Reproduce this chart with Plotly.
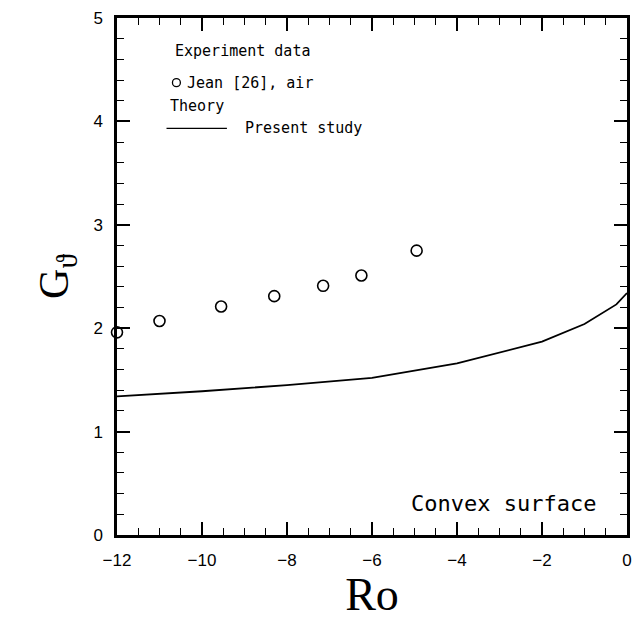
import plotly.graph_objects as go

# Experiment data: Jean [26], air
exp_ro = [-12.0, -11.0, -9.55, -8.3, -7.15, -6.25, -4.95]
exp_g = [1.96, 2.07, 2.21, 2.31, 2.41, 2.51, 2.75]

# Theory: present study
th_ro = [-12, -10, -8, -6, -4, -2, -1, -0.25, 0]
th_g = [1.34, 1.39, 1.45, 1.52, 1.66, 1.87, 2.04, 2.23, 2.34]

x_range = [-12, 0]
y_range = [0, 5]

fig = go.Figure()
fig.add_trace(go.Scatter(
    x=th_ro, y=th_g, mode="lines", xaxis="x2", yaxis="y2",
    line=dict(color="black", width=1.8),
    showlegend=False, cliponaxis=True,
))
fig.add_trace(go.Scatter(
    x=exp_ro, y=exp_g, mode="markers",
    marker=dict(symbol="circle-open", size=11, color="black", line=dict(width=1.6)),
    showlegend=False, cliponaxis=False,
))

tickfont = dict(family="Liberation Sans, Arial, sans-serif", size=17, color="black")
base = dict(showgrid=False, zeroline=False, showline=True, linecolor="black", linewidth=2.5,
            mirror="allticks", ticks="inside", tickcolor="black", tickmode="linear")

fig.update_layout(
    xaxis=dict(range=x_range, tick0=-12, dtick=2, ticklen=13, tickwidth=1.8,
               tickfont=tickfont, ticklabelstandoff=8,
               title=dict(text="Ro", font=dict(family="Liberation Serif, serif", size=46, color="black"), standoff=9),
               **base),
    yaxis=dict(range=y_range, tick0=0, dtick=1, ticklen=13, tickwidth=1.8,
               tickfont=tickfont, ticklabelstandoff=8,
               title=dict(text="G<sub>\u03d1</sub>", font=dict(family="Liberation Serif, serif", size=42, color="black"), standoff=12),
               **base),
    xaxis2=dict(range=x_range, tick0=-12, dtick=0.5, ticklen=7, tickwidth=1.4,
                showticklabels=False, overlaying="x", anchor="y2", side="bottom", **base),
    yaxis2=dict(range=y_range, tick0=0, dtick=0.2, ticklen=7, tickwidth=1.4,
                showticklabels=False, overlaying="y", anchor="x2", side="left", **base),
)

legfont = dict(family="DejaVu Sans Mono, monospace", size=15, color="black")
fig.add_annotation(xref="paper", yref="paper", x=(174 - 117) / 515, y=(537 - 50) / 520,
                   text="Experiment data", showarrow=False, xanchor="left", yanchor="middle", font=legfont)
fig.add_annotation(xref="paper", yref="paper", x=(186 - 117) / 515, y=(537 - 82) / 520,
                   text="Jean [26], air", showarrow=False, xanchor="left", yanchor="middle", font=legfont)
fig.add_annotation(xref="paper", yref="paper", x=(168 - 117) / 515, y=(537 - 106) / 520,
                   text="Theory", showarrow=False, xanchor="left", yanchor="middle", font=legfont)
fig.add_annotation(xref="paper", yref="paper", x=(244 - 117) / 515, y=(537 - 128) / 520,
                   text="Present study", showarrow=False, xanchor="left", yanchor="middle", font=legfont)
fig.add_annotation(xref="paper", yref="paper", x=(603 - 117) / 515, y=(537 - 505) / 520,
                   text="Convex surface", showarrow=False, xanchor="right", yanchor="middle",
                   font=dict(family="DejaVu Sans Mono, monospace", size=22, color="black"))
# legend symbols
fig.add_shape(type="circle", xref="paper", yref="paper",
              x0=(173 - 117) / 515, x1=(181 - 117) / 515,
              y0=(537 - 86) / 520, y1=(537 - 78) / 520,
              line=dict(color="black", width=1.3))
fig.add_shape(type="line", xref="paper", yref="paper",
              x0=(167 - 117) / 515, x1=(228 - 117) / 515,
              y0=(537 - 128) / 520, y1=(537 - 128) / 520,
              line=dict(color="black", width=1.3))

fig.update_layout(
    width=641, height=620,
    margin=dict(l=117, r=9, t=17, b=83),
    paper_bgcolor="white", plot_bgcolor="white",
    showlegend=False,
)
fig.write_html("out.html")
